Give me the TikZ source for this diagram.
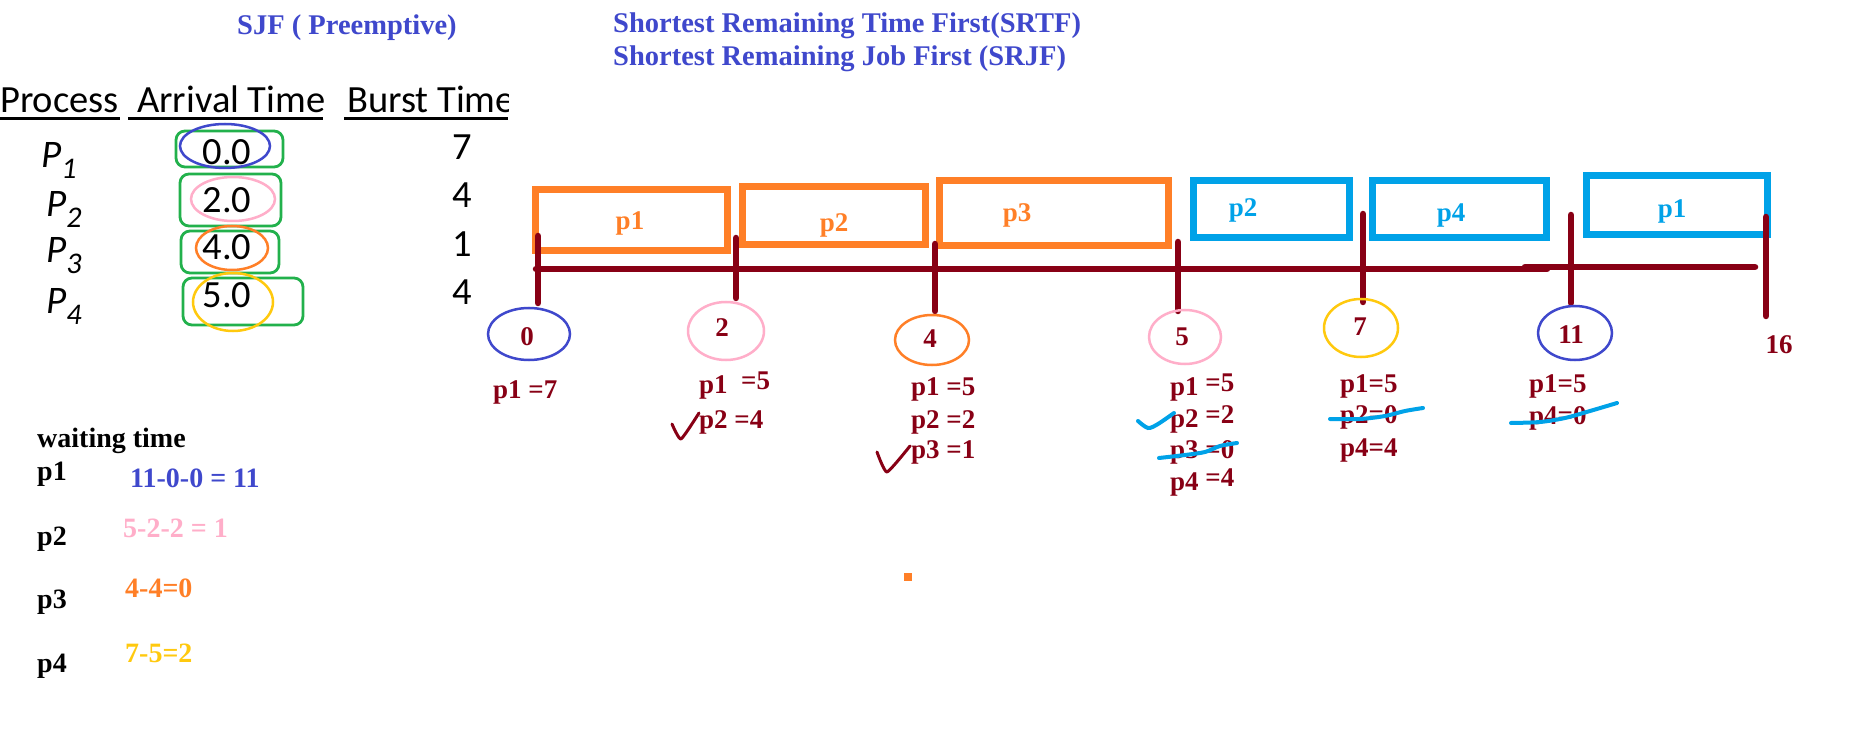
\documentclass[tikz,border=0pt]{standalone}
\usepackage{fontspec}
\setmainfont{Liberation Serif}
\newfontfamily\calfont{Carlito}
\definecolor{dred}{HTML}{880015}
\definecolor{orng}{HTML}{FF7F27}
\definecolor{cyanb}{HTML}{00A2E8}
\definecolor{indg}{HTML}{3F48CC}
\definecolor{rose}{HTML}{FFAEC9}
\definecolor{gold}{HTML}{FFC90E}
\definecolor{grn}{HTML}{22B14C}
\tikzset{
  ttl/.style={font=\fontsize{28.5}{32}\selectfont\bfseries, text=indg, inner sep=0, anchor=base west},
  hdr/.style={font=\calfont\fontsize{38.5}{40}\selectfont, inner sep=0, anchor=base west},
  cell/.style={font=\calfont\fontsize{38.5}{40}\selectfont, inner sep=0, anchor=base},
  pcell/.style={font=\calfont\itshape\fontsize{39}{40}\selectfont, inner sep=0, anchor=base west},
  gbox/.style={line width=7pt},
  glab/.style={font=\fontsize{27}{30}\selectfont\bfseries, inner sep=0, anchor=base},
  tickline/.style={draw=dred, line width=6.5pt, line cap=round},
  dr/.style={font=\fontsize{27}{30}\selectfont\bfseries, text=dred, inner sep=0, anchor=base west},
  drc/.style={font=\fontsize{27}{30}\selectfont\bfseries, text=dred, inner sep=0, anchor=base},
  wt/.style={font=\fontsize{28}{32}\selectfont\bfseries, inner sep=0, anchor=base west},
  ring/.style={line width=2.5pt},
  grect/.style={draw=grn, line width=2.8pt, rounded corners=9pt},
  strike/.style={draw=cyanb, line width=4pt, line cap=round},
  chk/.style={draw=dred, line width=3pt, line cap=round, line join=round}
}
\newcommand{\Psub}[1]{P\raisebox{-11pt}{\fontsize{30}{30}\selectfont #1}}
\newcommand{\up}[1]{\raisebox{4pt}{#1}}
\begin{document}
\begin{tikzpicture}[x=1pt,y=-1pt]
\useasboundingbox[fill=white] (0,0) rectangle (1850,743);

% titles
\node[ttl] (t1) at (237,35) {SJF ( Preemptive)};
\node[ttl] (t2) at (613,33) {Shortest Remaining Time First(SRTF)};
\node[ttl] (t3) at (613,66) {Shortest Remaining Job First (SRJF)};

% table header
\node[hdr] (hp) at (0,113) {Process};
\node[hdr] (ha) at (137,113) {Arrival Time};
\begin{scope}
\clip (330,60) rectangle (508,130);
\node[hdr] (hb) at (347,113) {Burst Time};
\end{scope}
\draw[line width=3pt] (0,119) -- (120,119);
\draw[line width=3pt] (128,119) -- (323,119);
\draw[line width=3pt] (344,119) -- (508,119);

% process names
\node[pcell] (p1n) at (41,168) {\Psub{1}};
\node[pcell] (p2n) at (46,217) {\Psub{2}};
\node[pcell] (p3n) at (46,263) {\Psub{3}};
\node[pcell] (p4n) at (46,313) {\Psub{4}};

% green boxes and ellipses
\draw[grect] (176,131) rectangle (283,167);
\draw[grect] (180,174) rectangle (281,226);
\draw[grect] (181,231) rectangle (279,273);
\draw[grect] (183,278) rectangle (303,325);
\draw[ring, draw=indg] (225,146) ellipse [x radius=45, y radius=22];
\draw[ring, draw=rose] (233,199) ellipse [x radius=42, y radius=22];
\draw[ring, draw=orng] (232,248) ellipse [x radius=36, y radius=22];
\draw[ring, draw=gold] (233,302) ellipse [x radius=40, y radius=29];

% arrival times
\node[cell] (a1) at (227,165) {0.0};
\node[cell] (a2) at (227,213) {2.0};
\node[cell] (a3) at (227,260) {4.0};
\node[cell] (a4) at (227,308) {5.0};

% burst times
\node[cell] (b1) at (462,160) {7};
\node[cell] (b2) at (462,208) {4};
\node[cell] (b3) at (462,257) {1};
\node[cell] (b4) at (462,305) {4};

% gantt boxes
\draw[gbox, draw=orng] (535.5,189.5) rectangle (727.5,250.5);
\draw[gbox, draw=orng] (742.5,186.5) rectangle (925.5,244.5);
\draw[gbox, draw=orng] (939.5,180.5) rectangle (1168.5,245.5);
\draw[gbox, draw=cyanb] (1193.5,180.5) rectangle (1349.5,237.5);
\draw[gbox, draw=cyanb] (1372.5,180.5) rectangle (1546.5,237.5);
\draw[gbox, draw=cyanb] (1586.5,175.5) rectangle (1767.5,234.5);
\node[glab, text=orng] (g1) at (630,230) {p1};
\node[glab, text=orng] (g2) at (834,232) {p2};
\node[glab, text=orng] (g3) at (1017,222) {p3};
\node[glab, text=cyanb] (g4) at (1243,217) {p2};
\node[glab, text=cyanb] (g5) at (1451,222) {p4};
\node[glab, text=cyanb] (g6) at (1672,218) {p1};

% timeline
\coordinate (la) at (536,269);
\coordinate (lb) at (1547,269);
\coordinate (lc) at (1525,267);
\coordinate (ld) at (1755,267);
\draw[tickline] (la) -- (lb);
\draw[tickline] (lc) -- (ld);
\coordinate (k0a) at (538,236); \coordinate (k0b) at (538,303);
\coordinate (k2a) at (736,238); \coordinate (k2b) at (736,298);
\coordinate (k4a) at (935,244); \coordinate (k4b) at (935,311);
\coordinate (k5a) at (1178,242); \coordinate (k5b) at (1178,311);
\coordinate (k7a) at (1363,214); \coordinate (k7b) at (1363,302);
\coordinate (k11a) at (1571,215); \coordinate (k11b) at (1571,303);
\coordinate (k16a) at (1766,217); \coordinate (k16b) at (1766,316);
\draw[tickline] (k0a) -- (k0b);
\draw[tickline] (k2a) -- (k2b);
\draw[tickline] (k4a) -- (k4b);
\draw[tickline] (k5a) -- (k5b);
\draw[tickline] (k7a) -- (k7b);
\draw[tickline] (k11a) -- (k11b);
\draw[tickline] (k16a) -- (k16b);

% time circles
\draw[ring, draw=indg] (529,334) ellipse [x radius=41, y radius=26];
\draw[ring, draw=rose] (726,331) ellipse [x radius=38, y radius=29];
\draw[ring, draw=orng] (932,340) ellipse [x radius=37, y radius=25];
\draw[ring, draw=rose] (1185,337) ellipse [x radius=36, y radius=27];
\draw[ring, draw=gold] (1361,328) ellipse [x radius=37, y radius=29];
\draw[ring, draw=indg] (1575,333) ellipse [x radius=37, y radius=27];
\node[drc] (c0) at (527,345) {0};
\node[drc] (c2) at (722,337) {2};
\node[drc] (c4) at (930,348) {4};
\node[drc] (c5) at (1182,345) {5};
\node[drc] (c7) at (1360,335) {7};
\node[drc] (c11) at (1571,343) {11};
\node[drc] (c16) at (1779,353) {16};

% remaining times
\node[dr] (r0a) at (493,398) {p1 =7};
\node[dr] (r2a) at (699,393) {p1\ \ \up{=5}};
\node[dr] (r2b) at (699,428) {p2 =4};
\node[dr] (r4a) at (911,395) {p1 =5};
\node[dr] (r4b) at (911,428) {p2 =2};
\node[dr] (r4c) at (911,458) {p3 =1};
\node[dr] (r5a) at (1170,395) {p1 \up{=5}};
\node[dr] (r5b) at (1170,427) {p2 \up{=2}};
\node[dr] (r5c) at (1170,458) {p3 =0};
\node[dr] (r5d) at (1170,490) {p4 \up{=4}};
\node[dr] (r7a) at (1340,392) {p1=5};
\node[dr] (r7b) at (1340,423) {p2=0};
\node[dr] (r7c) at (1340,456) {p4=4};
\node[dr] (r11a) at (1529,392) {p1=5};
\node[dr] (r11b) at (1529,424) {p4=0};

% check marks and strikes
\draw[chk] plot[smooth, tension=0.3] coordinates {(672,424) (681,439) (699,413)};
\draw[chk] plot[smooth, tension=0.3] coordinates {(877,452) (887,472) (910,446)};
\draw[strike] plot[smooth] coordinates {(1138,421) (1148,428) (1158,424) (1174,413)};
\draw[strike] plot[smooth] coordinates {(1159,458) (1185,455) (1205,452) (1220,446) (1237,443)};
\draw[strike] plot[smooth] coordinates {(1330,419) (1360,419) (1385,416) (1405,411) (1423,408)};
\draw[strike] plot[smooth] coordinates {(1511,423) (1540,422) (1565,418) (1590,411) (1617,403)};

% waiting time
\node[wt] (wh) at (37,447) {waiting time};
\node[wt] (w1) at (37,480) {p1};
\node[wt] (w2) at (37,545) {p2};
\node[wt] (w3) at (37,608) {p3};
\node[wt] (w4) at (37,672) {p4};
\node[wt, text=indg] (v1) at (130,487) {11-0-0 = 11};
\node[wt, text=rose] (v2) at (123,537) {5-2-2 = 1};
\node[wt, text=orng] (v3) at (125,597) {4-4=0};
\node[wt, text=gold] (v4) at (125,662) {7-5=2};

% stray dot
\fill[orng] (904,573) rectangle (912,581);
\end{tikzpicture}
\end{document}
